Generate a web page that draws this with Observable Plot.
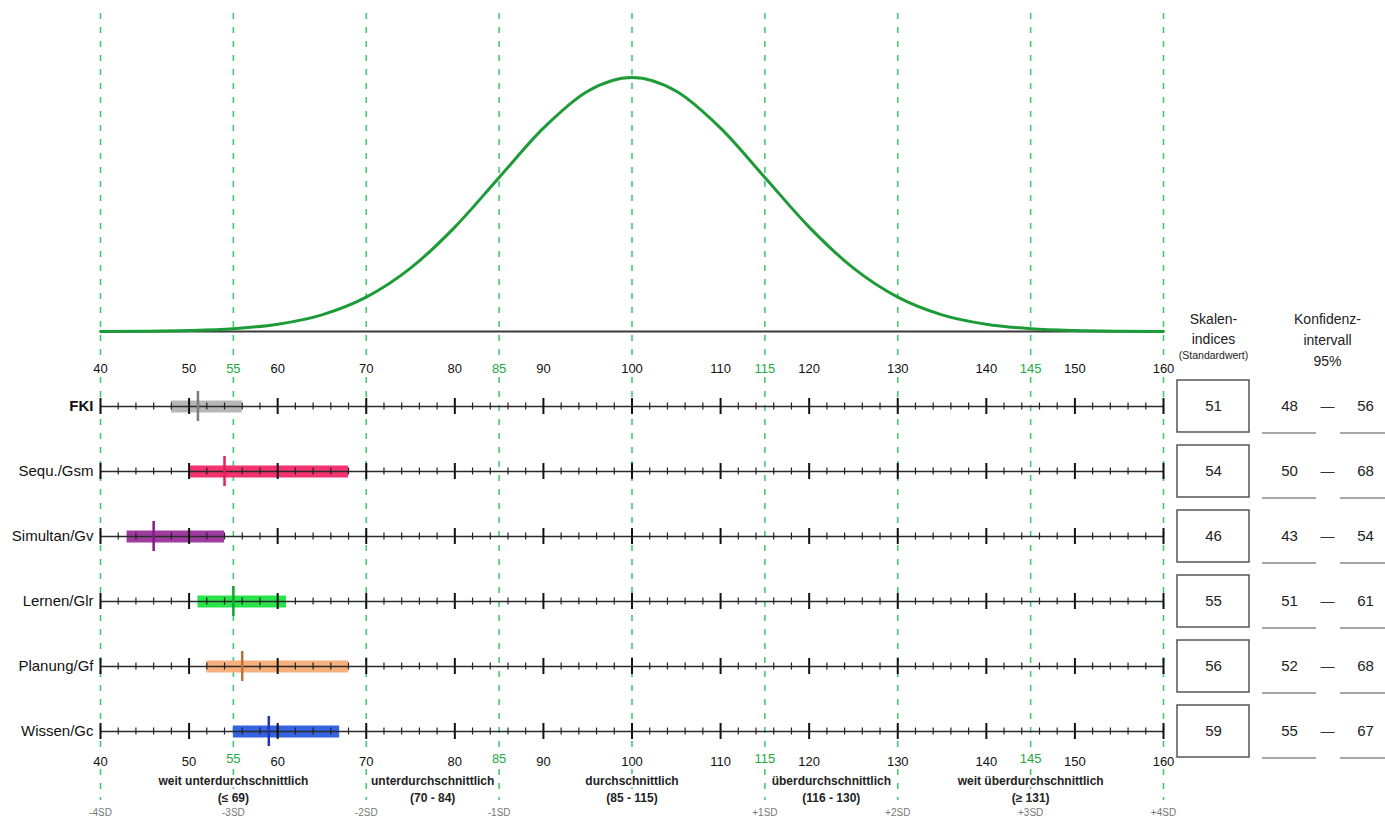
<!DOCTYPE html>
<html>
<head>
<meta charset="utf-8">
<script src="https://cdn.jsdelivr.net/npm/d3@7"></script>
<script src="https://cdn.jsdelivr.net/npm/@observablehq/plot@0.6"></script>
<style>
  body { margin: 0; background: white; }
  #chart { position: relative; width: 1385px; height: 818px; font-family: "Liberation Sans", Arial, sans-serif; }
  #chart svg { position: absolute; left: 0; }
</style>
</head>
<body>
<div id="chart"></div>
<script>
// ---------- data ----------
const rows = ["FKI", "Sequ./Gsm", "Simultan/Gv", "Lernen/Glr", "Planung/Gf", "Wissen/Gc"];
const scores = [51, 54, 46, 55, 56, 59];
const ciLow = [48, 50, 43, 51, 52, 55];
const ciHigh = [56, 68, 54, 61, 68, 67];

// normal curve (mean 100, SD 15): relative height read at every 5 points
const curveX = [40, 45, 50, 55, 60, 65, 70, 75, 80, 85, 90, 95, 100,
                105, 110, 115, 120, 125, 130, 135, 140, 145, 150, 155, 160];
const curveH = [0.0003, 0.0012, 0.0039, 0.0111, 0.0286, 0.0657, 0.1353, 0.2494, 0.4111, 0.6065, 0.8007, 0.9460, 1,
                0.9460, 0.8007, 0.6065, 0.4111, 0.2494, 0.1353, 0.0657, 0.0286, 0.0111, 0.0039, 0.0012, 0.0003];

const sdLines = [40, 55, 70, 85, 100, 115, 130, 145, 160];
const tickLabelsBlack = [40, 50, 60, 70, 80, 90, 100, 110, 120, 130, 140, 150, 160];
const tickLabelsGreen = [55, 85, 115, 145];
const majorTicks = [40, 50, 60, 70, 80, 90, 100, 110, 120, 130, 140, 150, 160];
const minorTicks = [42, 44, 46, 48, 52, 54, 56, 58, 62, 64, 66, 68, 72, 74, 76, 78, 82, 84, 86, 88,
                    92, 94, 96, 98, 102, 104, 106, 108, 112, 114, 116, 118, 122, 124, 126, 128,
                    132, 134, 136, 138, 142, 144, 146, 148, 152, 154, 156, 158];

const rangeCenters = [55, 77.5, 100, 122.5, 145];
const rangeNames = ["weit unterdurchschnittlich", "unterdurchschnittlich", "durchschnittlich", "überdurchschnittlich", "weit überdurchschnittlich"];
const rangeSpans = ["(≤ 69)", "(70 - 84)", "(85 - 115)", "(116 - 130)", "(≥ 131)"];

const sdLabelPos = [40, 55, 70, 85, 115, 130, 145, 160];
const sdLabelText = ["-4SD", "-3SD", "-2SD", "-1SD", "+1SD", "+2SD", "+3SD", "+4SD"];

const tableCols = ["score", "gap", "lower", "dash", "upper"];

// ---------- styles ----------
const barColors = ["#b7b7b7", "#f2336f", "#a03ca0", "#28e34a", "#f7b07c", "#3563e2"];
const markerColors = ["#7c7c7c", "#e41f5d", "#861b86", "#17a032", "#c0713a", "#2335b3"];
const dashGreen = "#3fcc71";
const labelGreen = "#22aa44";
const font = "Liberation Sans, Arial, sans-serif";

// ---------- derived tables ----------
const curve = curveX.map((x, i) => ({x, h: curveH[i]}));
const rowData = rows.map((r, i) => ({row: r, score: scores[i], lo: ciLow[i], hi: ciHigh[i], bar: barColors[i], mk: markerColors[i]}));
const minorCross = d3.cross(rows, minorTicks).map(([row, x]) => ({row, x}));
const majorCross = d3.cross(rows, majorTicks).map(([row, x]) => ({row, x}));
const rangeData = rangeCenters.map((x, i) => ({x, text: rangeNames[i] + "\n" + rangeSpans[i]}));
const sdData = sdLabelPos.map((x, i) => ({x, text: sdLabelText[i]}));

const W = 1385;
const xOpts = {domain: [40, 160], axis: null};
const baseStyle = {background: "transparent", fontFamily: font, overflow: "visible"};
const chart = document.getElementById("chart");
function place(svg, top) { svg.style.top = top + "px"; chart.appendChild(svg); }

// ---------- background dashed SD lines ----------
place(Plot.plot({
  width: W, height: 818,
  marginLeft: 100, marginRight: 222, marginTop: 13, marginBottom: 18,
  x: xOpts, style: baseStyle,
  marks: [
    Plot.ruleX(sdLines, {x: d => d, stroke: dashGreen, strokeWidth: 1.6, strokeDasharray: "6,8"})
  ]
}), 0);

// ---------- normal curve ----------
place(Plot.plot({
  width: W, height: 340,
  marginLeft: 100, marginRight: 222, marginTop: 77, marginBottom: 9,
  x: xOpts, y: {domain: [0, 1], axis: null}, style: baseStyle,
  marks: [
    Plot.ruleY([0], {x1: 40, x2: 160, stroke: "#3a3a3a", strokeWidth: 2.2}),
    Plot.line(curve, {x: "x", y: "h", curve: "monotone-x", stroke: "#1c9b36", strokeWidth: 3})
  ]
}), 0);

// ---------- profile rows ----------
const vtick = (data, x, half, opts) =>
  Plot.ruleX(data, {x, y1: "row", y2: "row", insetTop: -half, insetBottom: -half, ...opts});

place(Plot.plot({
  width: W, height: 478,
  marginLeft: 100, marginRight: 222, marginTop: 28, marginBottom: 57,
  x: xOpts,
  y: {type: "point", domain: rows, range: [66, 391], padding: 0, axis: null},
  style: baseStyle,
  marks: [
    // confidence bars
    Plot.ruleY(rowData, {y: "row", x1: "lo", x2: "hi", stroke: d => d.bar, strokeWidth: 12}),
    // row axis lines
    Plot.ruleY(rows, {y: d => d, x1: 40, x2: 160, stroke: "#2a2a2a", strokeWidth: 1.3}),
    vtick(minorCross, "x", 3.5, {stroke: "#222", strokeWidth: 1.2}),
    vtick(majorCross, "x", 8, {stroke: "#111", strokeWidth: 2}),
    // score markers
    vtick(rowData, "score", 15, {stroke: d => d.mk, strokeWidth: 2.5}),
    // row labels
    Plot.text(rowData.filter(d => d.row !== "FKI"), {y: "row", text: "row", frameAnchor: "left", textAnchor: "end", dx: -7, fontSize: 15, fill: "#111"}),
    Plot.text(rowData.filter(d => d.row === "FKI"), {y: "row", text: "row", frameAnchor: "left", textAnchor: "end", dx: -7, fontSize: 15, fontWeight: "bold", fill: "#111"}),
    // top tick labels
    Plot.text(tickLabelsBlack, {x: d => d, text: d => String(d), frameAnchor: "top", lineAnchor: "middle", fontSize: 13, fill: "#111", stroke: "white", strokeWidth: 5}),
    Plot.text(tickLabelsGreen, {x: d => d, text: d => String(d), frameAnchor: "top", lineAnchor: "middle", fontSize: 13, fill: labelGreen, stroke: "white", strokeWidth: 5}),
    // bottom tick labels
    Plot.text(tickLabelsBlack, {x: d => d, text: d => String(d), frameAnchor: "bottom", lineAnchor: "middle", fontSize: 13, fill: "#111", stroke: "white", strokeWidth: 5}),
    Plot.text(tickLabelsGreen, {x: d => d, text: d => String(d), frameAnchor: "bottom", lineAnchor: "middle", dy: -3, fontSize: 13, fill: labelGreen, stroke: "white", strokeWidth: 5}),
    // range descriptions
    Plot.text(rangeData, {x: "x", text: "text", frameAnchor: "bottom", lineAnchor: "top", dy: 12, fontSize: 12, fontWeight: "bold", lineHeight: 1.4, fill: "#222", stroke: "white", strokeWidth: 5}),
    // SD labels
    Plot.text(sdData, {x: "x", text: "text", frameAnchor: "bottom", lineAnchor: "middle", dy: 51, fontSize: 10, fill: "#777"})
  ]
}), 340);

// ---------- right-hand table ----------
place(Plot.plot({
  width: W, height: 818,
  margin: 0,
  x: {type: "point", domain: tableCols, range: [1211, 1366], padding: 0, axis: null},
  y: {type: "point", domain: rows, range: [406, 731], padding: 0, axis: null},
  style: baseStyle,
  marks: [
    Plot.rect(rowData, {x1: () => "score", x2: () => "score", y1: "row", y2: "row",
      insetLeft: -36, insetRight: -36, insetTop: -26, insetBottom: -26,
      fill: "white", stroke: "#555", strokeWidth: 1.5}),
    Plot.text(rowData, {x: () => "score", y: "row", text: d => String(d.score), fontSize: 15, fill: "#222"}),
    Plot.text(rowData, {x: () => "lower", y: "row", text: d => String(d.lo), fontSize: 15, fill: "#222"}),
    Plot.text(rowData, {x: () => "dash", y: "row", text: () => "—", fontSize: 14, fill: "#333"}),
    Plot.text(rowData, {x: () => "upper", y: "row", text: d => String(d.hi), fontSize: 15, fill: "#222"}),
    Plot.ruleY(rowData, {y: "row", x1: () => "lower", x2: () => "lower", insetLeft: -27, insetRight: -27, dy: 26.5, stroke: "#888", strokeWidth: 1.5}),
    Plot.ruleY(rowData, {y: "row", x1: () => "upper", x2: () => "upper", insetLeft: -25, insetRight: -29, dy: 26.5, stroke: "#888", strokeWidth: 1.5}),
    // column headers
    Plot.text(["Skalen-\nindices"], {x: () => "score", frameAnchor: "top", lineAnchor: "top", dy: 309, fontSize: 14, lineHeight: 1.43, fill: "#222"}),
    Plot.text(["(Standardwert)"], {x: () => "score", frameAnchor: "top", lineAnchor: "middle", dy: 355, fontSize: 10.5, fill: "#222"}),
    Plot.text(["Konfidenz-\nintervall\n95%"], {x: () => "dash", frameAnchor: "top", lineAnchor: "top", dy: 309, fontSize: 14, lineHeight: 1.5, fill: "#222"})
  ]
}), 0);
</script>
</body>
</html>
